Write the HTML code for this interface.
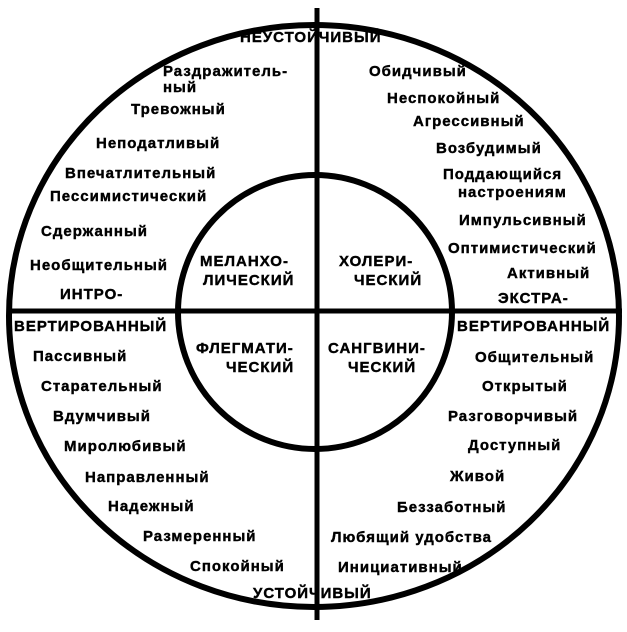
<!DOCTYPE html>
<html><head><meta charset="utf-8"><style>
body{margin:0;background:#fff}
svg text{font-family:"Liberation Sans","DejaVu Sans",sans-serif;font-weight:bold;font-size:15px;letter-spacing:1px;fill:#000;stroke:#000;stroke-width:0.4px}
</style></head><body>
<svg width="627" height="627" viewBox="0 0 627 627">
<rect width="627" height="627" fill="#fff"/>
<ellipse cx="314" cy="316" rx="305" ry="291" fill="none" stroke="#000" stroke-width="6"/>
<circle cx="315" cy="312" r="137" fill="none" stroke="#000" stroke-width="6"/>
<line x1="317" y1="8" x2="317" y2="620" stroke="#000" stroke-width="5"/>
<line x1="8" y1="311" x2="622" y2="311" stroke="#000" stroke-width="5"/>
<text x="240" y="42">НЕУСТОЙЧИВЫЙ</text>
<text x="253" y="598">УСТОЙЧИВЫЙ</text>
<text x="163" y="76" font-size="13">Раздражитель-</text>
<text x="163" y="92" font-size="13">ный</text>
<text x="131" y="114">Тревожный</text>
<text x="96" y="148">Неподатливый</text>
<text x="65" y="178" font-size="13">Впечатлительный</text>
<text x="50" y="201">Пессимистический</text>
<text x="41" y="236">Сдержанный</text>
<text x="30" y="270">Необщительный</text>
<text x="60" y="299">ИНТРО-</text>
<text x="14" y="331">ВЕРТИРОВАННЫЙ</text>
<text x="33" y="361">Пассивный</text>
<text x="41" y="391">Старательный</text>
<text x="53" y="421">Вдумчивый</text>
<text x="64" y="451">Миролюбивый</text>
<text x="85" y="482">Направленный</text>
<text x="108" y="511">Надежный</text>
<text x="143" y="541">Размеренный</text>
<text x="190" y="571">Спокойный</text>
<text x="369" y="76">Обидчивый</text>
<text x="387" y="103">Неспокойный</text>
<text x="413" y="126">Агрессивный</text>
<text x="436" y="153">Возбудимый</text>
<text x="443" y="179">Поддающийся</text>
<text x="458" y="197" font-size="13">настроениям</text>
<text x="459" y="225">Импульсивный</text>
<text x="448" y="253">Оптимистический</text>
<text x="507" y="278">Активный</text>
<text x="498" y="303">ЭКСТРА-</text>
<text x="457" y="331">ВЕРТИРОВАННЫЙ</text>
<text x="475" y="362">Общительный</text>
<text x="482" y="391">Открытый</text>
<text x="448" y="421">Разговорчивый</text>
<text x="468" y="450">Доступный</text>
<text x="450" y="481">Живой</text>
<text x="397" y="512">Беззаботный</text>
<text x="331" y="542">Любящий удобства</text>
<text x="338" y="572">Инициативный</text>
<text x="200" y="266" font-size="16">МЕЛАНХО-</text>
<text x="203" y="285" font-size="16">ЛИЧЕСКИЙ</text>
<text x="339" y="266" font-size="16">ХОЛЕРИ-</text>
<text x="354" y="285" font-size="16">ЧЕСКИЙ</text>
<text x="196" y="353" font-size="16">ФЛЕГМАТИ-</text>
<text x="226" y="372" font-size="16">ЧЕСКИЙ</text>
<text x="328" y="353" font-size="16">САНГВИНИ-</text>
<text x="348" y="372" font-size="16">ЧЕСКИЙ</text>
</svg>
</body></html>
